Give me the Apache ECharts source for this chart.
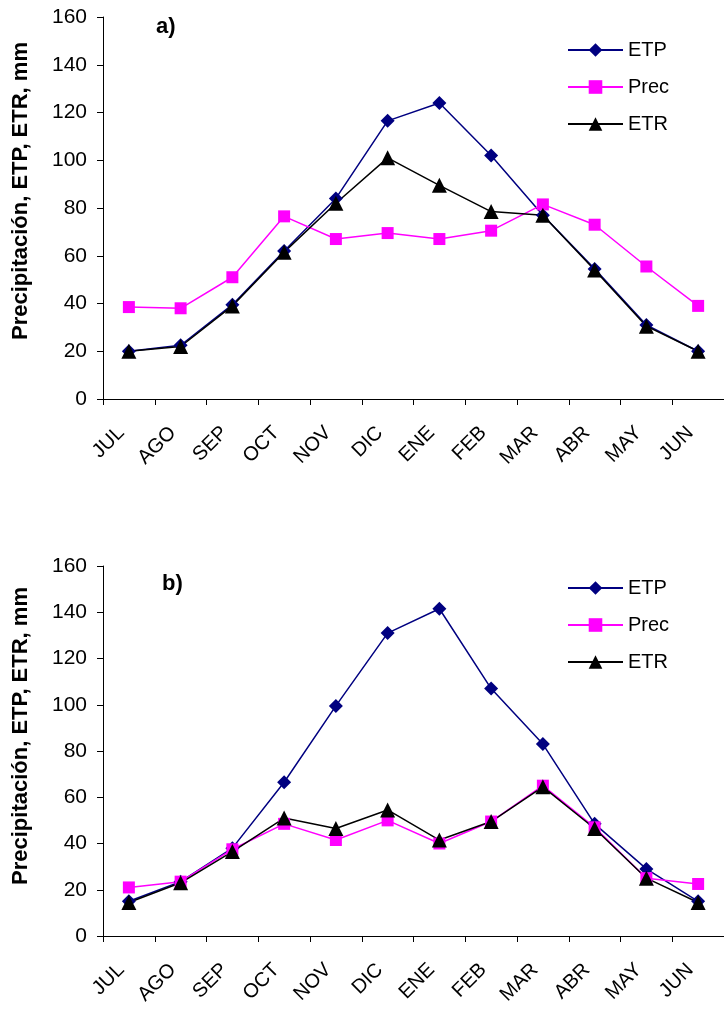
<!DOCTYPE html>
<html>
<head>
<meta charset="utf-8">
<script src="https://cdn.jsdelivr.net/npm/echarts@6/dist/echarts.min.js"></script>
<style>
html, body { margin: 0; padding: 0; background: #fff; }
#chart { width: 724px; height: 1010px; }
</style>
</head>
<body>
<div id="chart"></div>
<script>
// meses (eje x)
var months = ['JUL', 'AGO', 'SEP', 'OCT', 'NOV', 'DIC', 'ENE', 'FEB', 'MAR', 'ABR', 'MAY', 'JUN'];
var yTicks = [0, 20, 40, 60, 80, 100, 120, 140, 160];

// panel a)
var etpA  = [20, 22.5, 39.5, 62, 84, 116.5, 124, 102, 77, 54.5, 31, 20];
var precA = [38.5, 38, 51, 76.5, 67, 69.5, 67, 70.5, 81.5, 73, 55.5, 39];
var etrA  = [20, 22, 39, 61.5, 82, 101, 89.5, 78.5, 77, 54, 30.5, 20];

// panel b)
var etpB  = [15, 23.5, 38, 66.5, 99.5, 131, 141.5, 107, 83, 48.5, 29, 15];
var precB = [21, 23.5, 37.5, 48.5, 41.5, 50, 40, 49.5, 65, 47, 25, 22.5];
var etrB  = [14.5, 23, 36.5, 51, 46.5, 54.5, 41.5, 49.5, 64.5, 46.5, 25, 14.5];

var fontName = 'Liberation Sans';
var yName = 'Precipitación, ETP, ETR, mm';

var myChart = echarts.init(document.getElementById('chart'));

function xAxisFor(idx) {
	return {
		type: 'category',
		gridIndex: idx,
		data: months,
		boundaryGap: true,
		axisLine: { lineStyle: { color: '#000', width: 1 } },
		axisTick: { show: true, length: 6, lineStyle: { color: '#000' } },
		axisLabel: {
			interval: 0,
			rotate: 45,
			margin: 23,
			padding: [0, 11, 0, 0],
			color: '#000',
			fontFamily: fontName,
			fontSize: 20
		}
	};
}

function yAxisFor(idx, shift) {
	return {
		type: 'value',
		gridIndex: idx,
		min: yTicks[0],
		max: yTicks[yTicks.length - 1],
		interval: yTicks[1] - yTicks[0],
		name: yName,
		nameLocation: 'middle',
		nameRotate: 90,
		nameGap: 71,
		nameTextStyle: {
			color: '#000', fontFamily: fontName, fontSize: 22, fontWeight: 'bold',
			padding: [0, 0, 0, shift]
		},
		axisLine: { show: true, lineStyle: { color: '#000', width: 1 } },
		axisTick: { show: true, length: 6, lineStyle: { color: '#000' } },
		splitLine: { show: false },
		axisLabel: { color: '#000', fontFamily: fontName, fontSize: 21, margin: 16 }
	};
}

function mkSeries(name, data, idx, color, symbol, size) {
	return {
		name: name,
		type: 'line',
		xAxisIndex: idx,
		yAxisIndex: idx,
		data: data,
		symbol: symbol,
		symbolSize: size,
		itemStyle: { color: color },
		lineStyle: { color: color, width: 1.5 },
		animation: false
	};
}

function legendFor(top) {
	return {
		orient: 'vertical',
		left: 562,
		top: top,
		itemWidth: 55,
		itemHeight: 17,
		itemGap: 17,
		textStyle: { color: '#000', fontFamily: fontName, fontSize: 20 },
		data: ['ETP', 'Prec', 'ETR']
	};
}

myChart.setOption({
	animation: false,
	textStyle: { fontFamily: fontName },
	grid: [
		{ left: 103, top: 17, width: 624, height: 382 },
		{ left: 103, top: 566, width: 624, height: 370 }
	],
	title: [
		{ text: 'a)', left: 151, top: 11, textStyle: { fontSize: 22, fontWeight: 'bold', color: '#000', fontFamily: fontName } },
		{ text: 'b)', left: 157, top: 568, textStyle: { fontSize: 22, fontWeight: 'bold', color: '#000', fontFamily: fontName } }
	],
	legend: [legendFor(35), legendFor(573)],
	xAxis: [xAxisFor(0), xAxisFor(1)],
	yAxis: [yAxisFor(0, 34), yAxisFor(1, 30)],
	series: [
		mkSeries('ETP', etpA, 0, '#000080', 'diamond', 14),
		mkSeries('Prec', precA, 0, '#ff00ff', 'rect', 12),
		mkSeries('ETR', etrA, 0, '#000000', 'triangle', 15),
		mkSeries('ETP', etpB, 1, '#000080', 'diamond', 14),
		mkSeries('Prec', precB, 1, '#ff00ff', 'rect', 12),
		mkSeries('ETR', etrB, 1, '#000000', 'triangle', 15)
	]
});
</script>
</body>
</html>
